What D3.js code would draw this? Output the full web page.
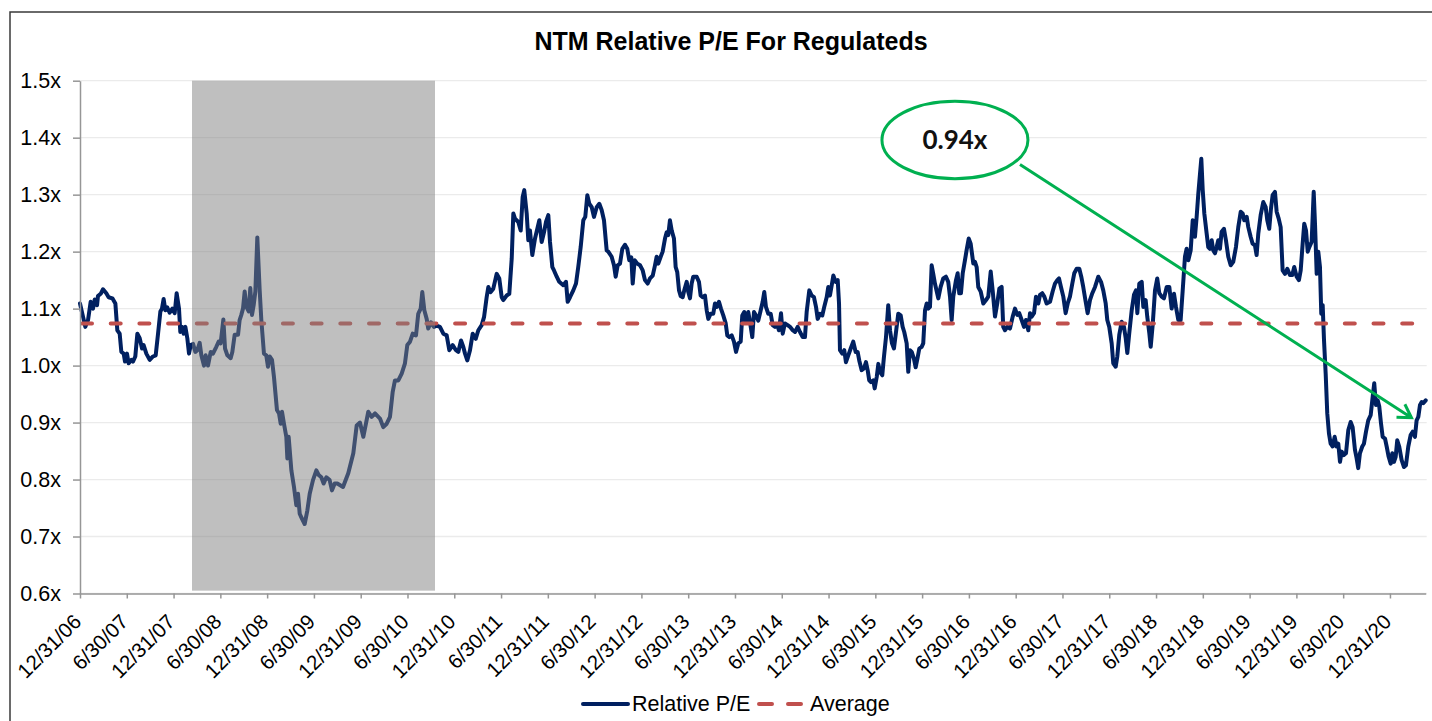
<!DOCTYPE html>
<html>
<head>
<meta charset="utf-8">
<script src="https://cdn.jsdelivr.net/npm/d3@7"></script>
<style>
  html, body { margin: 0; padding: 0; background: #fff; }
  svg { display: block; font-family: "Liberation Sans", Arial, sans-serif; }
</style>
</head>
<body>
<svg width="1432" height="721"></svg>
<script>
// weekly series, dates as decimal years (12/31/06 = 2007.0)
let years = [
  2007.000,2007.032,2007.057,2007.086,2007.114,2007.139,2007.157,2007.182,2007.192,2007.221,
  2007.246,2007.281,2007.306,2007.346,2007.378,2007.399,2007.424,2007.442,2007.467,2007.481,
  2007.502,2007.520,2007.549,2007.566,2007.591,2007.613,2007.638,2007.663,2007.680,2007.709,
  2007.745,2007.780,2007.809,2007.834,2007.859,2007.876,2007.894,2007.912,2007.933,2007.958,
  2007.987,2008.012,2008.033,2008.058,2008.072,2008.090,2008.108,2008.126,2008.147,2008.165,
  2008.183,2008.208,2008.233,2008.254,2008.279,2008.297,2008.325,2008.343,2008.368,2008.397,
  2008.421,2008.457,2008.482,2008.503,2008.532,2008.550,2008.575,2008.610,2008.628,2008.653,
  2008.689,2008.706,2008.724,2008.742,2008.760,2008.778,2008.803,2008.820,2008.838,2008.856,
  2008.874,2008.895,2008.920,2008.938,2008.966,2008.991,2009.009,2009.027,2009.052,2009.073,
  2009.105,2009.127,2009.145,2009.159,2009.180,2009.205,2009.216,2009.230,2009.259,2009.287,
  2009.312,2009.330,2009.348,2009.373,2009.401,2009.430,2009.455,2009.490,2009.526,2009.551,
  2009.579,2009.604,2009.633,2009.668,2009.693,2009.722,2009.750,2009.811,2009.867,2009.921,
  2009.957,2009.992,2010.028,2010.081,2010.117,2010.153,2010.206,2010.241,2010.278,2010.313,
  2010.342,2010.366,2010.402,2010.438,2010.473,2010.498,2010.527,2010.556,2010.591,2010.615,
  2010.641,2010.658,2010.680,2010.705,2010.722,2010.751,2010.783,2010.812,2010.847,2010.883,
  2010.919,2010.947,2010.983,2011.018,2011.043,2011.072,2011.096,2011.115,2011.139,2011.168,
  2011.197,2011.229,2011.257,2011.293,2011.318,2011.346,2011.364,2011.389,2011.417,2011.453,
  2011.481,2011.507,2011.524,2011.560,2011.588,2011.614,2011.631,2011.649,2011.684,2011.710,
  2011.731,2011.748,2011.774,2011.791,2011.809,2011.834,2011.863,2011.887,2011.909,2011.934,
  2011.959,2011.980,2012.005,2012.023,2012.048,2012.066,2012.095,2012.122,2012.165,2012.194,
  2012.212,2012.237,2012.272,2012.301,2012.325,2012.351,2012.379,2012.400,2012.422,2012.443,
  2012.469,2012.493,2012.522,2012.550,2012.575,2012.600,2012.629,2012.646,2012.682,2012.707,
  2012.725,2012.746,2012.771,2012.796,2012.824,2012.849,2012.870,2012.892,2012.907,2012.928,
  2012.956,2012.985,2013.014,2013.038,2013.067,2013.092,2013.121,2013.145,2013.163,2013.180,
  2013.206,2013.227,2013.252,2013.270,2013.287,2013.305,2013.324,2013.348,2013.366,2013.383,
  2013.402,2013.420,2013.441,2013.458,2013.484,2013.501,2013.519,2013.537,2013.554,2013.591,
  2013.615,2013.633,2013.655,2013.679,2013.698,2013.715,2013.740,2013.768,2013.786,2013.805,
  2013.829,2013.850,2013.875,2013.901,2013.918,2013.939,2013.965,2013.989,2014.011,2014.035,
  2014.061,2014.078,2014.099,2014.118,2014.142,2014.160,2014.185,2014.203,2014.225,2014.249,
  2014.275,2014.296,2014.313,2014.331,2014.356,2014.382,2014.403,2014.428,2014.452,2014.470,
  2014.492,2014.510,2014.534,2014.563,2014.588,2014.617,2014.641,2014.670,2014.695,2014.724,
  2014.748,2014.766,2014.794,2014.820,2014.844,2014.866,2014.884,2014.909,2014.933,2014.954,
  2014.980,2014.997,2015.015,2015.034,2015.051,2015.076,2015.098,2015.112,2015.122,2015.147,
  2015.168,2015.186,2015.211,2015.237,2015.264,2015.290,2015.311,2015.328,2015.354,2015.379,
  2015.400,2015.418,2015.435,2015.453,2015.478,2015.493,2015.515,2015.532,2015.550,2015.574,
  2015.592,2015.614,2015.638,2015.657,2015.678,2015.699,2015.721,2015.745,2015.771,2015.792,
  2015.809,2015.835,2015.852,2015.870,2015.889,2015.913,2015.931,2015.953,2015.970,2015.995,
  2016.012,2016.031,2016.049,2016.066,2016.084,2016.102,2016.119,2016.137,2016.173,2016.198,
  2016.226,2016.255,2016.279,2016.298,2016.316,2016.333,2016.362,2016.380,2016.397,2016.415,
  2016.434,2016.458,2016.476,2016.498,2016.519,2016.547,2016.565,2016.583,2016.600,2016.626,
  2016.654,2016.683,2016.707,2016.733,2016.754,2016.779,2016.803,2016.825,2016.850,2016.867,
  2016.886,2016.910,2016.939,2016.968,2016.993,2017.017,2017.038,2017.064,2017.089,2017.110,
  2017.135,2017.153,2017.171,2017.196,2017.217,2017.242,2017.260,2017.284,2017.306,2017.331,
  2017.367,2017.395,2017.420,2017.445,2017.463,2017.484,2017.509,2017.534,2017.556,2017.580,
  2017.605,2017.626,2017.652,2017.680,2017.701,2017.722,2017.748,2017.769,2017.794,2017.819,
  2017.848,2017.883,2017.912,2017.936,2017.962,2017.979,2018.000,2018.026,2018.043,2018.069,
  2018.086,2018.107,2018.133,2018.157,2018.176,2018.193,2018.214,2018.240,2018.264,2018.286,
  2018.300,2018.321,2018.347,2018.364,2018.389,2018.406,2018.428,2018.443,2018.464,2018.489,
  2018.513,2018.535,2018.560,2018.585,2018.614,2018.642,2018.667,2018.692,2018.713,2018.738,
  2018.763,2018.785,2018.809,2018.827,2018.845,2018.870,2018.892,2018.916,2018.934,2018.952,
  2018.970,2018.984,2018.999,2019.016,2019.041,2019.058,2019.076,2019.095,2019.112,2019.130,
  2019.148,2019.165,2019.183,2019.201,2019.226,2019.247,2019.272,2019.298,2019.325,2019.354,
  2019.379,2019.405,2019.426,2019.443,2019.469,2019.486,2019.511,2019.532,2019.557,2019.575,
  2019.593,2019.618,2019.646,2019.672,2019.689,2019.710,2019.728,2019.746,2019.771,2019.789,
  2019.811,2019.832,2019.853,2019.878,2019.903,2019.931,2019.956,2019.977,2020.003,2020.027,
  2020.046,2020.067,2020.084,2020.103,2020.121,2020.138,2020.163,2020.185,2020.199,2020.217,
  2020.234,2020.252,2020.266,2020.281,2020.295,2020.313,2020.330,2020.348,2020.366,2020.388,
  2020.409,2020.430,2020.448,2020.466,2020.484,2020.508,2020.530,2020.555,2020.580,2020.601,
  2020.626,2020.644,2020.661,2020.679,2020.704,2020.722,2020.744,2020.768,2020.794,2020.815,
  2020.832,2020.850,2020.869,2020.886,2020.904,2020.922,2020.947,2020.965,2020.986,2021.008,
  2021.025,2021.043,2021.061,2021.078,2021.099,2021.125,2021.150,2021.171,2021.196,2021.221,
  2021.243,2021.267,2021.285,2021.303,2021.321,2021.339,2021.356,2021.382
];
let relativePE = [
  1.109,1.086,1.068,1.080,1.112,1.100,1.116,1.106,1.122,1.126,
  1.134,1.127,1.120,1.118,1.109,1.062,1.056,1.024,1.021,1.007,
  1.021,1.004,1.010,1.007,1.016,1.056,1.048,1.030,1.036,1.021,
  1.010,1.016,1.018,1.056,1.095,1.100,1.117,1.097,1.102,1.093,
  1.100,1.092,1.127,1.100,1.059,1.068,1.056,1.068,1.048,1.021,
  1.036,1.038,1.024,1.027,1.040,1.018,1.000,1.018,1.000,1.024,
  1.021,1.033,1.042,1.039,1.081,1.030,1.018,1.013,1.024,1.054,
  1.054,1.080,1.089,1.100,1.130,1.103,1.095,1.136,1.089,1.106,
  1.130,1.225,1.133,1.080,1.021,1.018,0.998,1.016,1.010,0.980,
  0.922,0.916,0.898,0.919,0.898,0.875,0.837,0.875,0.816,0.787,
  0.755,0.775,0.740,0.731,0.722,0.746,0.775,0.799,0.816,0.808,
  0.804,0.793,0.804,0.799,0.781,0.793,0.793,0.787,0.811,0.846,
  0.895,0.900,0.875,0.919,0.910,0.916,0.907,0.892,0.898,0.910,
  0.954,0.974,0.974,0.986,1.004,1.036,1.042,1.056,1.053,1.091,
  1.100,1.129,1.097,1.082,1.065,1.076,1.068,1.070,1.068,1.056,
  1.053,1.027,1.036,1.027,1.024,1.044,1.033,1.021,1.009,1.027,
  1.056,1.047,1.062,1.071,1.085,1.120,1.138,1.129,1.135,1.161,
  1.153,1.120,1.115,1.123,1.126,1.188,1.267,1.258,1.252,1.237,
  1.296,1.308,1.267,1.220,1.237,1.194,1.223,1.240,1.255,1.217,
  1.234,1.252,1.264,1.217,1.173,1.167,1.156,1.147,1.141,1.147,
  1.112,1.120,1.132,1.144,1.173,1.208,1.255,1.261,1.299,1.284,
  1.278,1.261,1.278,1.284,1.273,1.255,1.202,1.200,1.191,1.176,
  1.156,1.176,1.179,1.205,1.212,1.205,1.185,1.190,1.144,1.185,
  1.179,1.176,1.167,1.150,1.144,1.153,1.158,1.176,1.191,1.179,
  1.191,1.200,1.223,1.234,1.229,1.255,1.237,1.223,1.173,1.164,
  1.132,1.122,1.120,1.132,1.147,1.129,1.118,1.144,1.156,1.156,
  1.147,1.123,1.120,1.123,1.097,1.082,1.091,1.091,1.109,1.103,
  1.112,1.100,1.088,1.074,1.053,1.050,1.053,1.042,1.024,1.039,
  1.042,1.088,1.094,1.077,1.094,1.077,1.050,1.094,1.088,1.079,
  1.097,1.112,1.129,1.103,1.091,1.091,1.071,1.068,1.071,1.062,
  1.092,1.056,1.074,1.071,1.068,1.062,1.059,1.068,1.059,1.050,
  1.050,1.094,1.132,1.123,1.120,1.103,1.082,1.091,1.088,1.103,
  1.120,1.138,1.123,1.141,1.158,1.147,1.150,1.109,1.027,1.021,
  1.027,1.006,1.018,1.030,1.042,1.024,1.024,1.009,0.992,0.995,
  1.006,0.992,0.974,0.971,0.974,0.960,0.980,1.003,0.989,0.983,
  1.015,1.050,1.106,1.062,1.039,1.030,1.059,1.091,1.088,1.068,
  1.059,1.039,0.989,1.027,1.024,1.012,0.997,1.015,1.030,1.033,
  1.039,1.097,1.109,1.100,1.103,1.176,1.161,1.144,1.118,1.138,
  1.153,1.156,1.147,1.121,1.080,1.121,1.150,1.162,1.127,1.127,
  1.162,1.185,1.203,1.223,1.214,1.179,1.182,1.173,1.138,1.130,
  1.109,1.115,1.121,1.165,1.132,1.086,1.109,1.135,1.138,1.068,
  1.062,1.068,1.065,1.086,1.100,1.089,1.092,1.080,1.068,1.080,
  1.062,1.092,1.086,1.092,1.121,1.109,1.124,1.127,1.121,1.109,
  1.112,1.130,1.144,1.150,1.153,1.138,1.121,1.092,1.109,1.121,
  1.144,1.162,1.170,1.170,1.156,1.138,1.112,1.092,1.115,1.127,
  1.138,1.156,1.147,1.132,1.109,1.080,1.068,1.039,1.004,0.998,
  1.016,1.054,1.077,1.068,1.048,1.022,1.057,1.097,1.124,1.132,
  1.092,1.144,1.147,1.103,1.115,1.086,1.057,1.033,1.071,1.132,
  1.153,1.127,1.121,1.118,1.138,1.138,1.100,1.126,1.103,1.080,
  1.080,1.132,1.191,1.205,1.185,1.202,1.255,1.226,1.261,1.302,
  1.337,1.363,1.308,1.267,1.232,1.208,1.205,1.220,1.202,1.197,
  1.208,1.220,1.205,1.235,1.240,1.220,1.191,1.176,1.182,1.208,
  1.243,1.270,1.267,1.255,1.261,1.243,1.226,1.214,1.211,1.194,
  1.232,1.264,1.287,1.278,1.255,1.240,1.275,1.299,1.305,1.270,
  1.258,1.243,1.167,1.161,1.170,1.159,1.159,1.173,1.156,1.150,
  1.167,1.214,1.249,1.237,1.200,1.208,1.217,1.305,1.249,1.161,
  1.200,1.173,1.091,1.106,1.045,0.986,0.916,0.881,0.863,0.858,
  0.875,0.858,0.863,0.831,0.849,0.843,0.846,0.887,0.901,0.892,
  0.852,0.837,0.820,0.846,0.858,0.863,0.884,0.904,0.913,0.945,
  0.969,0.931,0.939,0.928,0.899,0.875,0.872,0.858,0.840,0.828,
  0.846,0.831,0.840,0.869,0.858,0.834,0.822,0.825,0.858,0.878,
  0.884,0.875,0.904,0.910,0.931,0.936,0.934,0.939
];
let average = 1.074;

let tickLabels = ["12/31/06","6/30/07","12/31/07","6/30/08","12/31/08","6/30/09","12/31/09","6/30/10",
  "12/31/10","6/30/11","12/31/11","6/30/12","12/31/12","6/30/13","12/31/13","6/30/14","12/31/14",
  "6/30/15","12/31/15","6/30/16","12/31/16","6/30/17","12/31/17","6/30/18","12/31/18","6/30/19",
  "12/31/19","6/30/20","12/31/20"];
let yTicks = [0.6, 0.7, 0.8, 0.9, 1.0, 1.1, 1.2, 1.3, 1.4, 1.5];

// grey shaded period and its vertical extent
let shadeYears = [2008.197, 2010.794];
let shadeRange = [0.605, 1.5];

// callout: label, bubble centre, arrow start and arrow tip (year, value)
let calloutText = "0.94x";
let calloutCenter = [2016.351, 1.396];
let arrowFrom = [2017.046, 1.353];
let arrowTo = [2021.23, 0.9085];

let seriesNames = ["Relative P/E", "Average"];

const navy = "#002060", red = "#C0504D", green = "#00B050";

let svg = d3.select('svg');

let x = d3.scaleLinear()
  .domain([years[0], years[years.length - 1]])
  .range([80, 1425.7]);
let y = d3.scaleLinear()
  .domain([0.6, 1.5])
  .range([593.5, 80.7]);

// outer frame (only left and top edges are in view)
svg.append("path")
  .attr("d", "M10,721 L10,12 L1432,12")
  .attr("fill", "none")
  .attr("stroke", "#3a3a3a")
  .attr("stroke-width", 1.5);

// title
svg.append("text")
  .attr("x", 731).attr("y", 49.5)
  .attr("text-anchor", "middle")
  .style("font-size", "25px").style("font-weight", "bold")
  .text("NTM Relative P/E For Regulateds");

// gridlines
svg.append("g").selectAll("line")
  .data(yTicks).enter()
  .append("line")
  .attr("x1", 80).attr("x2", 1426.7)
  .attr("y1", d => y(d)).attr("y2", d => y(d))
  .attr("stroke", "#ebebeb")
  .attr("stroke-width", 1.3);

// series line
let line = d3.line()
  .x(d => x(d[0]))
  .y(d => y(d[1]));

svg.append("path")
  .datum(years.map((t, i) => [t, relativePE[i]]))
  .attr("fill", "none")
  .attr("stroke", navy)
  .attr("stroke-width", 4)
  .attr("stroke-linejoin", "round")
  .attr("stroke-linecap", "round")
  .attr("d", line);

// average, dashed
svg.append("line")
  .attr("x1", x(years[0])).attr("x2", x(years[years.length - 1]))
  .attr("y1", y(average)).attr("y2", y(average))
  .attr("stroke", red)
  .attr("stroke-width", 4)
  .attr("stroke-linecap", "round")
  .attr("stroke-dasharray", "10,18.7")
  .attr("stroke-dashoffset", -2);

// shaded period, semi transparent so the line shows through
svg.append("rect")
  .attr("x", x(shadeYears[0]))
  .attr("width", x(shadeYears[1]) - x(shadeYears[0]))
  .attr("y", y(shadeRange[1]))
  .attr("height", y(shadeRange[0]) - y(shadeRange[1]))
  .attr("fill", "#7f7f7f")
  .attr("opacity", 0.5);

// axes
let yAxis = svg.append("g")
  .attr("transform", "translate(80,0)")
  .call(d3.axisLeft(y).tickValues(yTicks)
    .tickFormat(d => d.toFixed(1) + "x")
    .tickSize(7).tickSizeOuter(0).tickPadding(12));

let tickYears = tickLabels.map((d, i) => years[0] + i * 0.5);
let xAxis = svg.append("g")
  .attr("transform", "translate(0," + y(0.6) + ")")
  .call(d3.axisBottom(x).tickValues(tickYears)
    .tickFormat((d, i) => tickLabels[i])
    .tickSize(5).tickSizeOuter(0));

[yAxis, xAxis].forEach(a => {
  a.select(".domain").attr("stroke", "#969696").attr("stroke-width", 1.5);
  a.selectAll(".tick line").attr("stroke", "#969696").attr("stroke-width", 1.5);
  a.selectAll("text").attr("fill", "#000").style("font-family", '"Liberation Sans", Arial, sans-serif');
});
yAxis.selectAll("text").style("font-size", "21.5px");
xAxis.selectAll("text")
  .style("font-size", "20.5px")
  .attr("text-anchor", "end")
  .attr("x", 0).attr("y", 0).attr("dy", 0)
  .attr("transform", "translate(2,29.5) rotate(-45)");

// callout bubble + arrow
let cx = x(calloutCenter[0]), cy = y(calloutCenter[1]);
svg.append("ellipse")
  .attr("cx", cx).attr("cy", cy)
  .attr("rx", 73).attr("ry", 38.7)
  .attr("fill", "#fff")
  .attr("stroke", green)
  .attr("stroke-width", 3);
svg.append("text")
  .attr("x", cx).attr("y", cy + 9.5)
  .attr("text-anchor", "middle")
  .style("font-family", "Lato, 'Open Sans', sans-serif")
  .style("font-size", "26px").style("font-weight", "bold")
  .attr("fill", "#111")
  .text(calloutText);

let a0 = [x(arrowFrom[0]), y(arrowFrom[1])];
let a1 = [x(arrowTo[0]), y(arrowTo[1])];
let ang = Math.atan2(a1[1] - a0[1], a1[0] - a0[0]);
let head = 15, spread = 31 * Math.PI / 180;
let h1 = [a1[0] - head * Math.cos(ang - spread), a1[1] - head * Math.sin(ang - spread)];
let h2 = [a1[0] - head * Math.cos(ang + spread), a1[1] - head * Math.sin(ang + spread)];
svg.append("path")
  .attr("d", "M" + a0 + "L" + a1 + "M" + h1 + "L" + a1 + "L" + h2)
  .attr("fill", "none")
  .attr("stroke", green)
  .attr("stroke-width", 3)
  .attr("stroke-linejoin", "miter");

// legend
let legend = svg.append("g").style("font-size", "21.5px");
legend.append("line")
  .attr("x1", 583).attr("x2", 628).attr("y1", 704).attr("y2", 704)
  .attr("stroke", navy).attr("stroke-width", 4).attr("stroke-linecap", "round");
legend.append("text").attr("x", 632).attr("y", 711).text(seriesNames[0]);
legend.append("line")
  .attr("x1", 759).attr("x2", 801).attr("y1", 704).attr("y2", 704)
  .attr("stroke", red).attr("stroke-width", 4).attr("stroke-linecap", "round")
  .attr("stroke-dasharray", "13,16");
legend.append("text").attr("x", 810).attr("y", 711).text(seriesNames[1]);
</script>
</body>
</html>
